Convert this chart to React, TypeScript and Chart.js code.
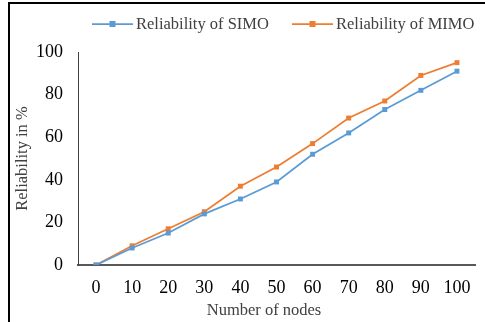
import React, { useEffect, useRef } from "react";
import { Chart, registerables } from "chart.js";

Chart.register(...registerables);

const nodes = ["0", "10", "20", "30", "40", "50", "60", "70", "80", "90", "100"];
const simo = [0, 8, 15, 24, 31, 39, 52, 62, 73, 82, 91];
const mimo = [0, 9, 17, 25, 37, 46, 57, 69, 77, 89, 95];
const seriesNames = ["Reliability of SIMO", "Reliability of MIMO"];
const xTitle = "Number of nodes";
const yTitle = "Reliability in %";
const colors = ["#5B9BD5", "#ED7D31"];
const FONT = "'Liberation Serif', 'Times New Roman', serif";

const framePlugin = {
  id: "frame",
  afterDraw(chart: any) {
    const ctx = chart.ctx;
    ctx.save();
    ctx.strokeStyle = "#000";
    ctx.lineWidth = 2;
    ctx.beginPath();
    ctx.moveTo(9, 322);
    ctx.lineTo(9, 3);
    ctx.lineTo(485, 3);
    ctx.stroke();
    // legend
    const items = [
      { x: 92, text: seriesNames[0], color: colors[0] },
      { x: 292, text: seriesNames[1], color: colors[1] },
    ];
    ctx.font = `16.5px ${FONT}`;
    ctx.textBaseline = "middle";
    ctx.textAlign = "left";
    for (const it of items) {
      const y = 24;
      ctx.strokeStyle = it.color;
      ctx.lineWidth = 1.75;
      ctx.beginPath();
      ctx.moveTo(it.x, y);
      ctx.lineTo(it.x + 41, y);
      ctx.stroke();
      ctx.fillStyle = it.color;
      ctx.fillRect(it.x + 20.5 - 3, y - 3, 6, 6);
      ctx.fillStyle = "#404040";
      ctx.fillText(it.text, it.x + 44, y + 1);
    }
    // x axis title
    ctx.textAlign = "center";
    ctx.fillStyle = "#404040";
    ctx.fillText(xTitle, 264, 311);
    ctx.restore();
  },
};

export default function App() {
  const ref = useRef<HTMLCanvasElement>(null);
  useEffect(() => {
    const chart = new Chart(ref.current!, {
      type: "line",
      data: {
        labels: nodes,
        datasets: [
          {
            label: seriesNames[0],
            data: simo,
            borderColor: colors[0],
            backgroundColor: colors[0],
            borderWidth: 1.75,
            pointStyle: "rect",
            pointRadius: 3.5,
            pointBorderWidth: 0,
            tension: 0,
          },
          {
            label: seriesNames[1],
            data: mimo,
            borderColor: colors[1],
            backgroundColor: colors[1],
            borderWidth: 1.75,
            pointStyle: "rect",
            pointRadius: 3.5,
            pointBorderWidth: 0,
            tension: 0,
          },
        ],
      },
      options: {
        animation: false,
        responsive: false,
        layout: { padding: { top: 52, right: 10, left: 0, bottom: 0 } },
        plugins: { legend: { display: false }, tooltip: { enabled: false } },
        scales: {
          x: {
            offset: true,
            grid: { display: false, drawTicks: false },
            border: { display: true, color: "#595959", width: 2 },
            ticks: { color: "#000", font: { family: FONT, size: 18 }, padding: 12, maxRotation: 0 },
            title: { display: false },
            afterFit: (s: any) => {
              s.height = 57;
            },
          },
          y: {
            min: 0,
            max: 100,
            grid: { display: false, drawTicks: false },
            border: { display: true, color: "#404040", width: 1 },
            ticks: { stepSize: 20, color: "#000", font: { family: FONT, size: 18 }, padding: 15 },
            title: {
              display: true,
              text: yTitle,
              color: "#404040",
              font: { family: FONT, size: 16.5 },
              padding: { top: 12.5, bottom: 0 },
            },
            afterFit: (s: any) => {
              s.width = 78;
            },
          },
        },
      },
      plugins: [framePlugin],
    });
    return () => chart.destroy();
  }, []);
  return (
    <div style={{ position: "absolute", left: 0, top: 0, width: 485, height: 322, background: "#fff" }}>
      <canvas ref={ref} width={485} height={322} style={{ display: "block" }} />
    </div>
  );
}
